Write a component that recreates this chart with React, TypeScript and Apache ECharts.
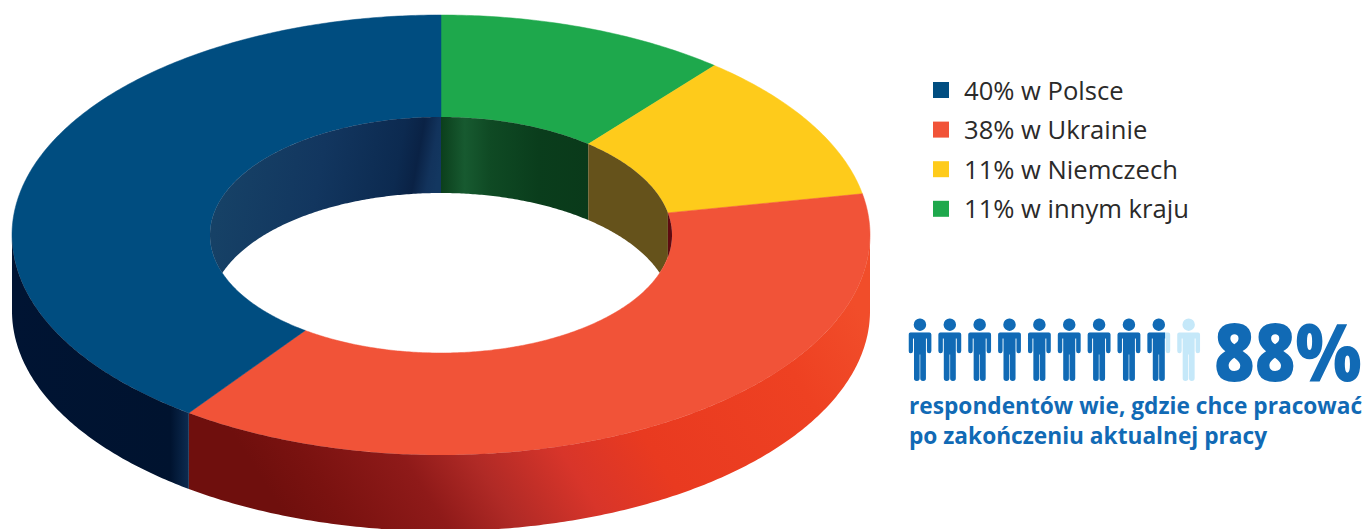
import React, { useEffect, useRef } from "react";
import * as echarts from "echarts";

// Where respondents want to work, clockwise from twelve o'clock.
const places = ["innym kraju", "Niemczech", "Ukrainie", "Polsce"];
const shares = [11, 11, 38, 40];
const legendOrder = [3, 2, 1, 0];
const knowsWhere = 88;
const peopleScale = 100;
const headline = `${knowsWhere}%`;
const captionLines = [
  "respondentów wie, gdzie chce pracować",
  "po zakończeniu aktualnej pracy",
];

const faceColours = ["#1ea84c", "#fecb1b", "#f15338", "#004d80"];
const BLUE = "#116ab5";
const PALE = "#c5e8f9";

// Ring geometry: an upright ring seen from above, so circles become ellipses.
const CX = 441;
const CY = 235;
const OUTER_RX = 429;
const OUTER_RY = 220;
const INNER_RX = 231;
const INNER_RY = 118;
const DEPTH = 76;

const gradient = (x0: number, y0: number, x1: number, y1: number, stops: [number, string][]) =>
  new echarts.graphic.LinearGradient(
    x0, y0, x1, y1,
    stops.map(([offset, color]) => ({ offset, color })),
    true,
  );

const outerWallFill: Record<number, any> = {
  2: gradient(320, 570, 820, 250, [
    [0, "#6f0f0d"], [0.08, "#7a1210"], [0.22, "#8f1a19"], [0.32, "#b02a26"],
    [0.45, "#d8352a"], [0.58, "#e93a20"], [0.85, "#ee4122"], [1, "#f14d2a"],
  ]),
  3: gradient(12, 0, 188, 0, [
    [0, "#001433"], [0.9, "#00132f"], [1, "#0c2a4f"],
  ]),
};

const innerWallFill: Record<number, any> = {
  0: gradient(441, 0, 589, 0, [
    [0, "#0b3f1c"], [0.16, "#175a30"], [0.33, "#0f4a24"], [0.66, "#0a3d1c"], [1, "#0a3a1a"],
  ]),
  1: "#65521b",
  2: "#5e0a10",
  3: gradient(210, 120, 441, 162, [
    [0, "#174468"], [0.5, "#12365f"], [0.82, "#0c2a50"], [0.9, "#0a2245"], [0.96, "#12335c"], [1, "#133760"],
  ]),
};

const total = shares.reduce((a, b) => a + b, 0);
const angleOf = (share: number) => (share / total) * Math.PI * 2;

const rim = (a: number, rx: number, ry: number, dy = 0): number[] => [
  CX + rx * Math.sin(a),
  CY - ry * Math.cos(a) + dy,
];

const sweep = (from: number, to: number): number[] => {
  const out: number[] = [];
  const steps = Math.max(2, Math.ceil(Math.abs(to - from) / 0.01));
  for (let i = 0; i <= steps; i++) out.push(from + ((to - from) * i) / steps);
  return out;
};

// Person glyph: head, torso with arms split off by thin slits, and two legs.
const PERSON =
  "path://M11.35 0A6.2 6.2 0 1 1 11.35 12.4A6.2 6.2 0 1 1 11.35 0Z" +
  "M2 14H20.7A2 2 0 0 1 22.7 16V32.5A2.2 2.2 0 0 1 18.3 32.5V20H17.3V59.7A2.8 2.8 0 0 1 11.7 59.7V36H11V59.7A2.8 2.8 0 0 1 5.4 59.7V20H4.4V32.5A2.2 2.2 0 0 1 0 32.5V16A2 2 0 0 1 2 14Z";

function renderSlice(index: number) {
  return (_params: any, api: any) => {
    const a0 = angleOf(api.value(0));
    const a1 = angleOf(api.value(0) + api.value(1));
    const children: any[] = [];

    // Flat top of the ring.
    const face = [
      ...sweep(a0, a1).map((a) => rim(a, OUTER_RX, OUTER_RY)),
      ...sweep(a1, a0).map((a) => rim(a, INNER_RX, INNER_RY)),
    ];
    children.push({
      type: "polygon",
      shape: { points: face },
      style: { fill: faceColours[index], stroke: faceColours[index], lineWidth: 0.5 },
    });

    // Outside wall: only the front half of the ring faces the viewer.
    const fStart = Math.max(a0, Math.PI / 2);
    const fEnd = Math.min(a1, (Math.PI * 3) / 2);
    if (fEnd > fStart) {
      const wall = [
        ...sweep(fStart, fEnd).map((a) => rim(a, OUTER_RX, OUTER_RY)),
        ...sweep(fEnd, fStart).map((a) => rim(a, OUTER_RX, OUTER_RY, DEPTH)),
      ];
      children.push({
        type: "polygon",
        shape: { points: wall },
        style: { fill: outerWallFill[index] },
      });
    }

    // Inside wall: the far half of the hole, cut off by the hole's near edge.
    const ranges: [number, number][] = [
      [Math.max(a0, 0), Math.min(a1, Math.PI / 2)],
      [Math.max(a0, (Math.PI * 3) / 2), Math.min(a1, Math.PI * 2)],
    ];
    for (const [s, e] of ranges) {
      if (e <= s) continue;
      const lower = sweep(e, s).map((a) => {
        const [x, y] = rim(a, INNER_RX, INNER_RY);
        return [x, Math.min(y + DEPTH, CY + INNER_RY * Math.abs(Math.cos(a)))];
      });
      children.push({
        type: "polygon",
        shape: { points: [...sweep(s, e).map((a) => rim(a, INNER_RX, INNER_RY)), ...lower] },
        style: { fill: innerWallFill[index] },
      });
    }
    return { type: "group", children };
  };
}

const sliceName = (i: number) => `${shares[i]}% w ${places[i]}`;

export default function App() {
  const ref = useRef<HTMLDivElement>(null);

  useEffect(() => {
    document.body.style.margin = "0";
    const chart = echarts.init(ref.current!, null, { renderer: "svg" });
    let running = 0;
    const sliceSeries = shares.map((share, i) => {
      const start = running;
      running += share;
      return {
        type: "custom",
        name: sliceName(i),
        coordinateSystem: "none",
        silent: true,
        itemStyle: { color: faceColours[i] },
        data: [[start, share]],
        renderItem: renderSlice(i),
      };
    });
    const personBar = {
      type: "pictorialBar",
      silent: true,
      symbol: PERSON,
      symbolSize: [22.7, 62.5],
      symbolRepeat: 10,
      symbolBoundingData: peopleScale,
      symbolPosition: "start",
      barWidth: 62.5,
      barGap: "-100%",
    };
    chart.setOption({
      animation: false,
      backgroundColor: "#ffffff",
      legend: {
        data: legendOrder.map(sliceName),
        orient: "vertical",
        left: 933,
        top: 77,
        padding: 0,
        itemWidth: 16,
        itemHeight: 16,
        itemGap: 13.6,
        icon: "rect",
        selectedMode: false,
        textStyle: {
          fontFamily: "Open Sans",
          fontSize: 25.6,
          lineHeight: 26,
          color: "#2b2a29",
          padding: [0, 0, 0, 10],
        },
      },
      grid: { left: 908.6, top: 318.5, width: 291.4, height: 62.5 },
      xAxis: { type: "value", min: 0, max: peopleScale, show: false },
      yAxis: { type: "category", data: ["respondenci"], show: false },
      series: [
        ...sliceSeries,
        { ...personBar, name: "wszyscy", z: 2, itemStyle: { color: PALE }, data: [peopleScale] },
        { ...personBar, name: "wiedzą", z: 3, symbolClip: true, itemStyle: { color: BLUE }, data: [knowsWhere] },
      ],
      graphic: [
        {
          type: "text",
          x: 1214,
          y: 350,
          scaleX: 0.87,
          style: {
            text: headline,
            fill: BLUE,
            fontFamily: "Open Sans",
            fontWeight: 800,
            fontSize: 80,
            lineHeight: 50,
            textVerticalAlign: "middle",
          },
        },
        ...captionLines.map((text, i) => ({
          type: "text",
          x: 909,
          y: 405 + i * 30,
          style: {
            text,
            fill: BLUE,
            fontFamily: "Open Sans",
            fontWeight: 700,
            fontSize: 22.7,
            lineHeight: 26,
            textVerticalAlign: "middle",
          },
        })),
      ],
    });
    return () => chart.dispose();
  }, []);

  return (
    <div
      ref={ref}
      style={{ position: "absolute", left: 0, top: 0, width: 1365, height: 529, overflow: "hidden" }}
    />
  );
}
